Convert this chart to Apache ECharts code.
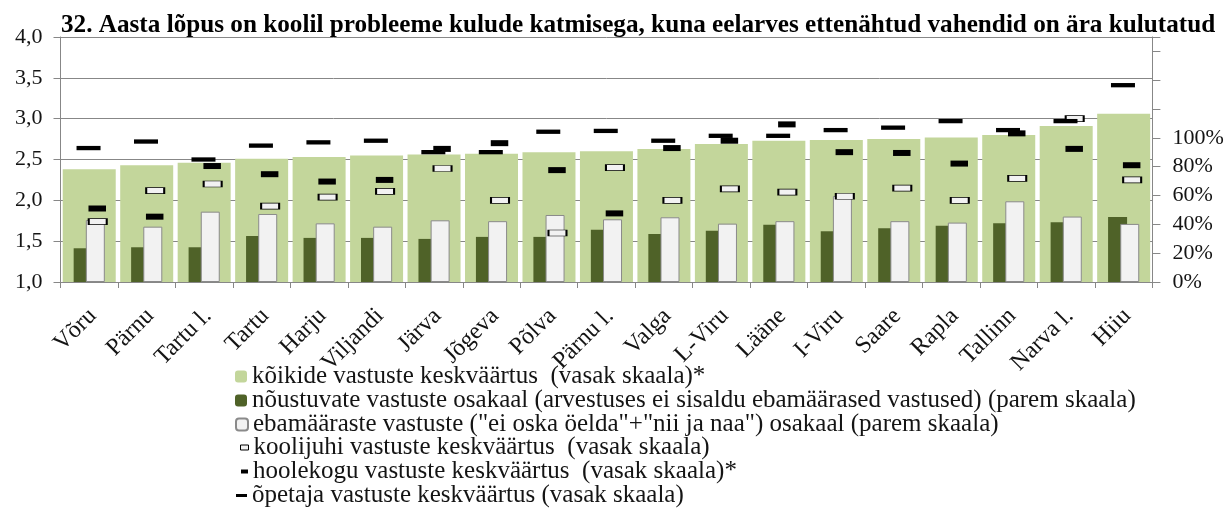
<!DOCTYPE html>
<html>
<head>
<meta charset="utf-8">
<script src="https://cdn.jsdelivr.net/npm/echarts@6/dist/echarts.min.js"></script>
<style>
  html, body { margin: 0; padding: 0; background: #fff; }
  #chart { width: 1227px; height: 509px; }
</style>
</head>
<body>
<div id="chart"></div>
<script>
// Counties / towns, sorted by the overall mean
const categories = ['Võru', 'Pärnu', 'Tartu l.', 'Tartu', 'Harju', 'Viljandi', 'Järva', 'Jõgeva', 'Põlva', 'Pärnu l.', 'Valga', 'L-Viru', 'Lääne', 'I-Viru', 'Saare', 'Rapla', 'Tallinn', 'Narva l.', 'Hiiu'];

// Mean of all answers (left scale)
const koikideKeskmine = [2.38, 2.43, 2.46, 2.51, 2.53, 2.55, 2.56, 2.57, 2.59, 2.60, 2.63, 2.69, 2.73, 2.74, 2.75, 2.77, 2.80, 2.91, 3.06];
// Share of agreeing answers (right scale, fraction)
const noustuvadOsakaal = [0.234, 0.241, 0.241, 0.319, 0.306, 0.306, 0.299, 0.313, 0.313, 0.363, 0.333, 0.356, 0.398, 0.352, 0.373, 0.391, 0.407, 0.414, 0.451];
// Share of indefinite answers (right scale, fraction)
const ebamaarasedOsakaal = [0.430, 0.384, 0.488, 0.472, 0.407, 0.384, 0.428, 0.422, 0.465, 0.435, 0.449, 0.405, 0.422, 0.597, 0.422, 0.412, 0.560, 0.454, 0.403];
// Group means (left scale)
const koolijuhiKeskmine = [1.74, 2.12, 2.20, 1.93, 2.04, 2.11, 2.39, 2.00, 1.60, 2.40, 2.00, 2.14, 2.10, 2.05, 2.15, 2.00, 2.27, 3.00, 2.25];
const hoolekoguKeskmine = [1.90, 1.80, 2.42, 2.32, 2.23, 2.25, 2.63, 2.70, 2.37, 1.84, 2.64, 2.73, 2.93, 2.59, 2.58, 2.45, 2.82, 2.63, 2.43];
const opetajaKeskmine = [2.64, 2.72, 2.50, 2.67, 2.71, 2.73, 2.59, 2.59, 2.84, 2.85, 2.73, 2.79, 2.79, 2.86, 2.89, 2.97, 2.86, 2.97, 3.41];

const seriesNames = [
  'kõikide vastuste keskväärtus  (vasak skaala)*',
  'nõustuvate vastuste osakaal (arvestuses ei sisaldu ebamäärased vastused) (parem skaala)',
  'ebamääraste vastuste ("ei oska öelda"+"nii ja naa") osakaal (parem skaala)',
  'koolijuhi vastuste keskväärtus  (vasak skaala)',
  'hoolekogu vastuste keskväärtus  (vasak skaala)*',
  'õpetaja vastuste keskväärtus (vasak skaala)'
];

const titleText = '32. Aasta lõpus on koolil probleeme kulude katmisega, kuna eelarves ettenähtud vahendid on ära kulutatud';

const SERIF = '"Liberation Serif", "Times New Roman", serif';
const INK = '#141414';
const GRID_GRAY = '#878787';

const chart = echarts.init(document.getElementById('chart'), null, { renderer: 'canvas' });

// one legend block per row so each icon keeps its own size
const legendRows = [
  { name: seriesNames[0], top: 364, left: 235, w: 12, h: 12 },
  { name: seriesNames[1], top: 388, left: 235, w: 12, h: 12 },
  { name: seriesNames[2], top: 412, left: 235, w: 12, h: 12 },
  { name: seriesNames[3], top: 435, left: 240, w: 8, h: 5, border: 1 },
  { name: seriesNames[4], top: 459, left: 241, w: 7, h: 4 },
  { name: seriesNames[5], top: 483, left: 236, w: 11, h: 3 }
];

const option = {
  animation: false,
  backgroundColor: '#fff',
  title: {
    text: titleText,
    left: 61,
    top: 13,
    padding: 0,
    textStyle: { fontFamily: SERIF, fontWeight: 'bold', fontSize: 25.2, color: '#000' }
  },
  legend: legendRows.map(r => {
    const lg = {
      data: [r.name],
      left: r.left,
      top: r.top,
      padding: 0,
      itemWidth: r.w,
      itemHeight: r.h,
      selectedMode: false,
      textStyle: { fontFamily: SERIF, fontSize: 25, color: INK, lineHeight: 24 }
    };
    if (r.border) lg.itemStyle = { borderWidth: r.border };
    return lg;
  }),
  grid: { left: 60.5, right: 74.6, top: 37, bottom: 227, containLabel: false },
  xAxis: [
    {
      type: 'category',
      data: categories,
      position: 'bottom',
      axisLine: { show: true, lineStyle: { color: GRID_GRAY, width: 1 } },
      axisTick: { show: true, length: 6, lineStyle: { color: GRID_GRAY } },
      axisLabel: {
        interval: 0, rotate: 45, margin: 17,
        verticalAlign: 'top', padding: [0, 7, 0, 0],
        fontFamily: SERIF, fontSize: 24, color: INK
      },
      splitLine: { show: false }
    },
    {
      type: 'category',
      data: categories,
      show: false
    }
  ],
  yAxis: [
    {
      type: 'value',
      min: 1, max: 4, interval: 0.5,
      position: 'left',
      axisLine: { show: true, lineStyle: { color: GRID_GRAY, width: 1 } },
      axisTick: { show: true, length: 7, lineStyle: { color: GRID_GRAY } },
      axisLabel: {
        margin: 18, fontFamily: SERIF, fontSize: 22, color: INK,
        formatter: v => v.toFixed(1).replace('.', ',')
      },
      splitLine: { show: true, lineStyle: { color: GRID_GRAY, width: 1 } }
    },
    {
      type: 'value',
      min: 0, max: 1.7, interval: 0.2,
      position: 'right',
      axisLine: { show: true, lineStyle: { color: GRID_GRAY, width: 1 } },
      axisTick: { show: true, length: 8, lineStyle: { color: GRID_GRAY } },
      axisLabel: {
        margin: 20, fontFamily: SERIF, fontSize: 22, color: INK,
        formatter: v => (v <= 1.0001 ? Math.round(v * 100) + '%' : '')
      },
      splitLine: { show: false }
    }
  ],
  series: [
    {
      name: seriesNames[0], type: 'bar',
      xAxisIndex: 0, yAxisIndex: 0,
      barWidth: 53,
      itemStyle: { color: '#c3d69b' },
      data: koikideKeskmine
    },
    {
      name: seriesNames[1], type: 'bar',
      xAxisIndex: 1, yAxisIndex: 1,
      barWidth: 19, barGap: '-36%',
      itemStyle: { color: '#4f6228' },
      data: noustuvadOsakaal
    },
    {
      name: seriesNames[2], type: 'bar',
      xAxisIndex: 1, yAxisIndex: 1,
      barWidth: 19, barGap: '-36%',
      itemStyle: { color: '#f2f2f2', borderColor: '#8a8a8a', borderWidth: 1 },
      data: ebamaarasedOsakaal
    },
    {
      name: seriesNames[3], type: 'scatter',
      xAxisIndex: 0, yAxisIndex: 0,
      symbol: 'rect', symbolSize: [18, 6], symbolOffset: [8.5, 0],
      itemStyle: { color: '#f2f2f2', borderColor: '#000', borderWidth: 1.2, opacity: 1 },
      z: 4,
      data: koolijuhiKeskmine
    },
    {
      name: seriesNames[4], type: 'scatter',
      xAxisIndex: 0, yAxisIndex: 0,
      symbol: 'rect', symbolSize: [17.5, 6], symbolOffset: [8, 0],
      itemStyle: { color: '#000', opacity: 1 },
      z: 5,
      data: hoolekoguKeskmine
    },
    {
      name: seriesNames[5], type: 'scatter',
      xAxisIndex: 0, yAxisIndex: 0,
      symbol: 'rect', symbolSize: [24, 4.3], symbolOffset: [-0.7, 0],
      itemStyle: { color: '#000', opacity: 1 },
      z: 5,
      data: opetajaKeskmine
    }
  ]
};

chart.setOption(option);
</script>
</body>
</html>
